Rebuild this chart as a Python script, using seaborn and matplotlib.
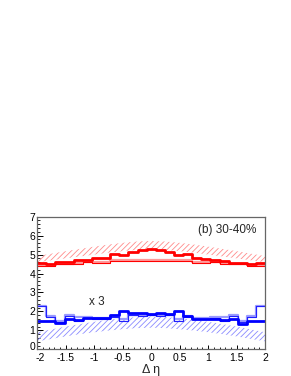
import numpy as np
import matplotlib
matplotlib.use("Agg")
import matplotlib.pyplot as plt
import matplotlib.transforms as mtransforms
import seaborn as sns

sns.set_theme(style="white")
plt.rcParams['font.family'] = ['Liberation Sans', 'DejaVu Sans']
plt.rcParams['hatch.linewidth'] = 0.6

# 25 bins in delta-eta from -2 to 2
edges = [-2.0, -1.84, -1.68, -1.52, -1.36, -1.2, -1.04, -0.88, -0.72, -0.56, -0.4, -0.24, -0.08,
         0.08, 0.24, 0.4, 0.56, 0.72, 0.88, 1.04, 1.2, 1.36, 1.52, 1.68, 1.84, 2.0]

red_thick = [4.53, 4.49, 4.59, 4.59, 4.69, 4.69, 4.80, 4.80, 5.05, 4.98, 5.12, 5.22, 5.28,
             5.22, 5.12, 4.98, 5.05, 4.80, 4.78, 4.70, 4.66, 4.56, 4.56, 4.49, 4.53]
red_thin = [4.42, 4.42, 4.48, 4.48, 4.52, 4.60, 4.55, 4.55, 4.66, 4.66, 4.68, 4.68, 4.68,
            4.68, 4.68, 4.66, 4.66, 4.55, 4.55, 4.60, 4.52, 4.48, 4.48, 4.42, 4.42]
red_light = [4.47, 4.45, 4.52, 4.52, 4.56, 4.62, 4.59, 4.59, 4.69, 4.69, 4.70, 4.70, 4.70,
             4.70, 4.70, 4.69, 4.69, 4.59, 4.59, 4.62, 4.56, 4.52, 4.52, 4.45, 4.47]

blue_thick = [1.51, 1.51, 1.37, 1.62, 1.55, 1.64, 1.64, 1.64, 1.81, 2.03, 1.90, 1.93, 1.86,
              1.90, 1.86, 2.03, 1.78, 1.62, 1.62, 1.62, 1.55, 1.60, 1.36, 1.50, 1.51]
blue_thin = [2.27, 1.72, 1.42, 1.76, 1.47, 1.65, 1.62, 1.62, 1.72, 1.50, 1.80, 1.76, 1.80,
             1.76, 1.80, 1.50, 1.72, 1.62, 1.62, 1.65, 1.47, 1.76, 1.42, 1.72, 2.27]
blue_light = [2.27, 1.78, 1.48, 1.81, 1.72, 1.68, 1.66, 1.66, 1.75, 1.58, 1.83, 1.80, 1.83,
              1.80, 1.83, 1.58, 1.75, 1.66, 1.66, 1.68, 1.72, 1.81, 1.48, 1.78, 2.27]

# hatched bands
band_x = [-2.0, -1.75, -1.5, -1.25, -1.0, -0.75, -0.5, -0.25, 0.0,
          0.25, 0.5, 0.75, 1.0, 1.25, 1.5, 1.75, 2.0]
red_band_hi = [4.92, 5.05, 5.18, 5.30, 5.42, 5.53, 5.62, 5.69, 5.72,
               5.69, 5.62, 5.53, 5.42, 5.30, 5.18, 5.05, 4.92]
red_band_lo = [4.60, 4.70, 4.80, 4.90, 5.00, 5.10, 5.18, 5.25, 5.28,
               5.25, 5.18, 5.10, 5.00, 4.90, 4.80, 4.70, 4.60]
blue_band_hi = [0.90, 1.05, 1.20, 1.33, 1.45, 1.56, 1.64, 1.70, 1.73,
                1.70, 1.64, 1.56, 1.45, 1.33, 1.20, 1.05, 0.90]
blue_band_lo = [0.42, 0.55, 0.68, 0.80, 0.90, 0.99, 1.06, 1.12, 1.14,
                1.12, 1.06, 0.99, 0.90, 0.80, 0.68, 0.55, 0.42]

centers = [(edges[i] + edges[i + 1]) / 2 for i in range(len(edges) - 1)]

fig = plt.figure(figsize=(2.91, 3.76), dpi=100)
ax = fig.add_axes([0.128, 0.071, 0.783, 0.3527])

ax.fill_between(band_x, red_band_lo, red_band_hi, facecolor='none',
                edgecolor='#ff8a8a', hatch='//////', linewidth=0)
ax.fill_between(band_x, blue_band_lo, blue_band_hi, facecolor='none',
                edgecolor='#8a8aff', hatch='//////', linewidth=0)

def hist(vals, color, lw):
    sns.histplot(x=centers, weights=vals, bins=edges, element='step', fill=False,
                 color=color, linewidth=lw, ax=ax)

hist(red_light, '#ff9a9a', 1.6)
hist(red_thin, '#ff0000', 0.8)
hist(red_thick, '#ff0000', 2.0)
hist(blue_light, '#9a9aff', 1.6)
hist(blue_thin, '#2020ff', 0.8)
hist(blue_thick, '#0000ff', 2.0)

ax.set_xlim(-2, 2)
ax.set_ylim(0, 7)
ax.set_xticks([-2, -1.5, -1, -0.5, 0, 0.5, 1, 1.5, 2])
ax.set_xticklabels(['-2', '-1.5', '-1', '-0.5', '0', '0.5', '1', '1.5', '2'])
ax.set_xticks(np.arange(-2, 2.001, 0.1), minor=True)
ax.set_yticks(range(0, 8))
ax.set_yticks(np.arange(0, 7.001, 0.2), minor=True)
ax.tick_params(axis='both', which='both', direction='in', labelsize=7.5, colors='black')
ax.tick_params(axis='y', which='major', length=4.3, width=0.7, pad=1.5)
ax.tick_params(axis='y', which='minor', length=2.2, width=0.6)
ax.tick_params(axis='x', which='major', length=3.2, width=0.7, pad=2.6)
ax.tick_params(axis='x', which='minor', length=1.6, width=0.6)
ax.tick_params(left=True, bottom=True, which='both')
for s in ax.spines.values():
    s.set_visible(True)
    s.set_color('#666666')
    s.set_linewidth(0.9)

ax.set_ylabel('')
ax.set_xlabel('Δ η', fontsize=9, labelpad=0.5)
ax.text(0.96, 0.9, '(b) 30-40%', transform=ax.transAxes, ha='right', va='center', fontsize=8.5)
ax.text(-1.1, 2.5, 'x 3', ha='left', va='center', fontsize=8.5)

# nudge the corner labels apart slightly
lab0 = ax.yaxis.get_major_ticks()[0].label1
lab0.set_transform(lab0.get_transform() + mtransforms.ScaledTranslation(0, 2.5 / 72, fig.dpi_scale_trans))
labm2 = ax.xaxis.get_major_ticks()[0].label1
labm2.set_transform(labm2.get_transform() + mtransforms.ScaledTranslation(2.0 / 72, 0, fig.dpi_scale_trans))

fig.savefig('out.png', dpi=100)
